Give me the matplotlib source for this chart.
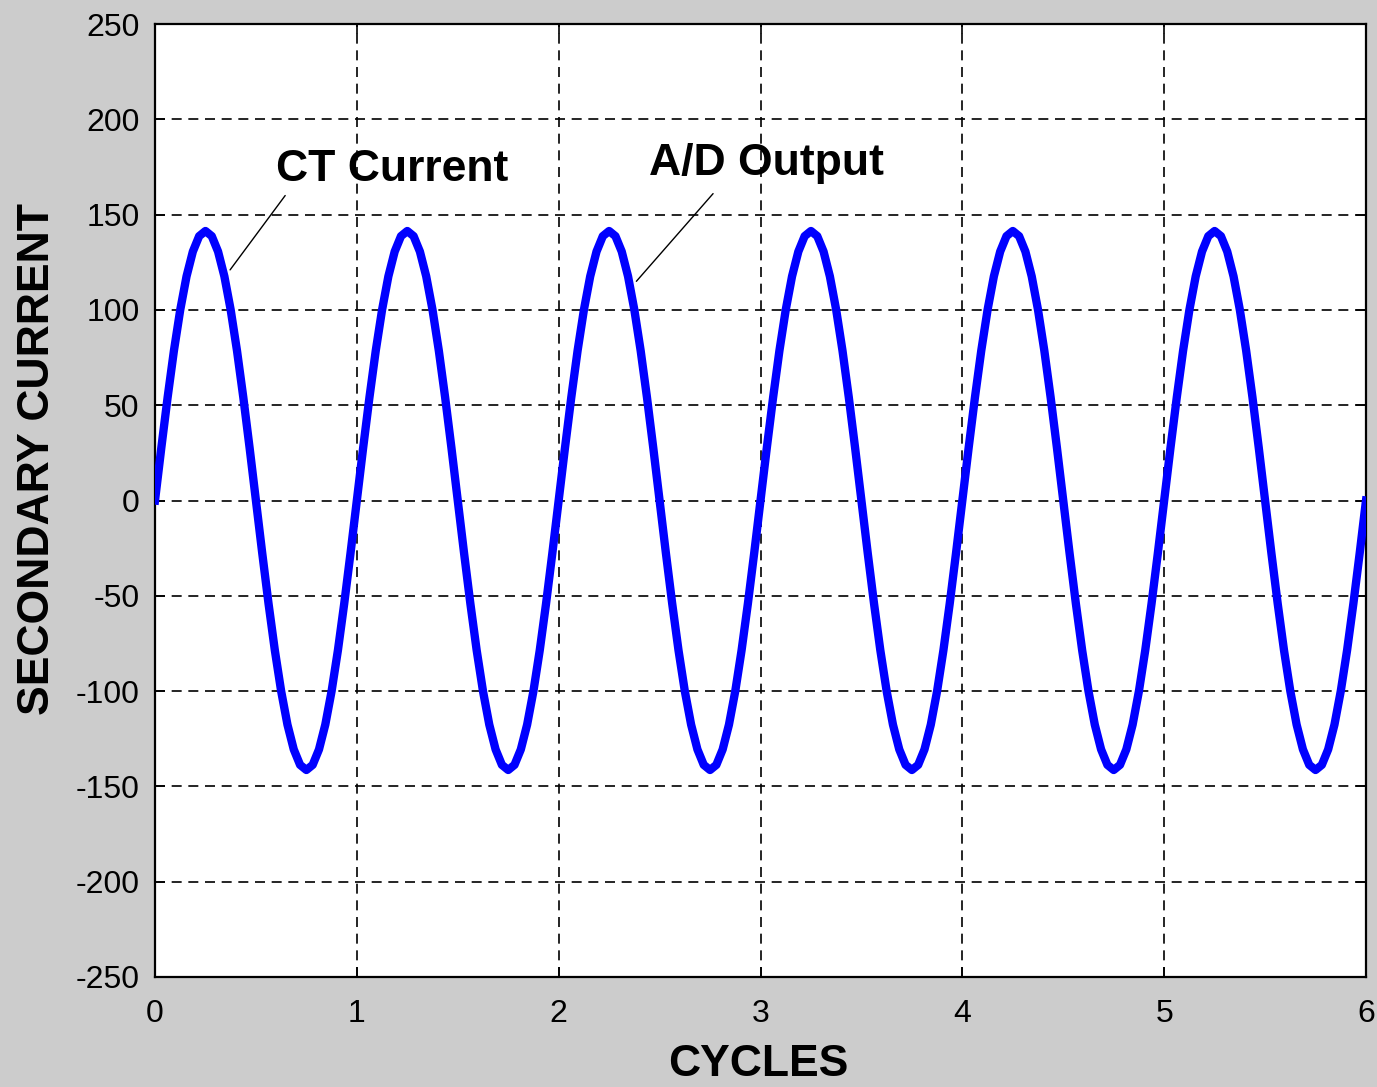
import numpy as np
import matplotlib
matplotlib.use("Agg")
import matplotlib.pyplot as plt

# Secondary current samples, 32 samples per cycle
samples_per_cycle = 32
secondary_current = [
    # cycle 1
    0, 27.6, 54.1, 78.6, 100.0, 117.6, 130.6, 138.7, 141.4, 138.7, 130.6, 117.6, 100.0, 78.6, 54.1, 27.6,
    0, -27.6, -54.1, -78.6, -100.0, -117.6, -130.6, -138.7, -141.4, -138.7, -130.6, -117.6, -100.0, -78.6, -54.1, -27.6,
    # cycle 2
    0, 27.6, 54.1, 78.6, 100.0, 117.6, 130.6, 138.7, 141.4, 138.7, 130.6, 117.6, 100.0, 78.6, 54.1, 27.6,
    0, -27.6, -54.1, -78.6, -100.0, -117.6, -130.6, -138.7, -141.4, -138.7, -130.6, -117.6, -100.0, -78.6, -54.1, -27.6,
    # cycle 3
    0, 27.6, 54.1, 78.6, 100.0, 117.6, 130.6, 138.7, 141.4, 138.7, 130.6, 117.6, 100.0, 78.6, 54.1, 27.6,
    0, -27.6, -54.1, -78.6, -100.0, -117.6, -130.6, -138.7, -141.4, -138.7, -130.6, -117.6, -100.0, -78.6, -54.1, -27.6,
    # cycle 4
    0, 27.6, 54.1, 78.6, 100.0, 117.6, 130.6, 138.7, 141.4, 138.7, 130.6, 117.6, 100.0, 78.6, 54.1, 27.6,
    0, -27.6, -54.1, -78.6, -100.0, -117.6, -130.6, -138.7, -141.4, -138.7, -130.6, -117.6, -100.0, -78.6, -54.1, -27.6,
    # cycle 5
    0, 27.6, 54.1, 78.6, 100.0, 117.6, 130.6, 138.7, 141.4, 138.7, 130.6, 117.6, 100.0, 78.6, 54.1, 27.6,
    0, -27.6, -54.1, -78.6, -100.0, -117.6, -130.6, -138.7, -141.4, -138.7, -130.6, -117.6, -100.0, -78.6, -54.1, -27.6,
    # cycle 6
    0, 27.6, 54.1, 78.6, 100.0, 117.6, 130.6, 138.7, 141.4, 138.7, 130.6, 117.6, 100.0, 78.6, 54.1, 27.6,
    0, -27.6, -54.1, -78.6, -100.0, -117.6, -130.6, -138.7, -141.4, -138.7, -130.6, -117.6, -100.0, -78.6, -54.1, -27.6,
    0,
]
cycles = np.arange(len(secondary_current)) / samples_per_cycle

x_ticks = [0, 1, 2, 3, 4, 5, 6]
y_ticks = [-250, -200, -150, -100, -50, 0, 50, 100, 150, 200, 250]

annotations = [
    # label, point on curve, leader start, text position
    ("CT Current", (0.372, 121), (0.645, 160), (0.60, 163)),
    ("A/D Output", (2.385, 115), (2.765, 161), (2.45, 166)),
]

plt.rcParams['font.family'] = ['Liberation Sans', 'DejaVu Sans']

fig = plt.figure(figsize=(13.77, 10.87), dpi=100, facecolor='#cccccc')
ax = fig.add_axes([155/1377, 1 - 977/1087, (1366-155)/1377, (977-24)/1087])
ax.set_facecolor('white')

ax.plot(cycles, secondary_current, color='#0000ff', lw=6, zorder=3)

ax.set_xlim(0, 6)
ax.set_ylim(-250, 250)
ax.set_xticks(x_ticks)
ax.set_yticks(y_ticks)
ax.set_xticklabels([str(v) for v in x_ticks])
ax.set_yticklabels([str(v) for v in y_ticks])
ax.grid(True, color='black', linestyle=(0, (6, 4)), linewidth=1.2)
ax.tick_params(direction='in', length=7, width=1.2, labelsize=23, colors='black',
               top=True, right=True)
ax.tick_params(axis='y', pad=11)
ax.tick_params(axis='x', pad=16)
for s in ax.spines.values():
    s.set_linewidth(1.6)
    s.set_color('black')

fig.text(758/1377, 1 - 1065/1087, 'CYCLES', ha='center', va='center',
         fontsize=32, fontweight='bold')
fig.text(38/1377, 1 - 459/1087, 'SECONDARY CURRENT', ha='center', va='center',
         rotation=90, fontsize=32, fontweight='bold')

for label, pt, start, tpos in annotations:
    ax.annotate('', xy=pt, xytext=start,
                arrowprops=dict(arrowstyle='-', lw=1.0, color='black',
                                shrinkA=0, shrinkB=0))
    ax.text(tpos[0], tpos[1], label, ha='left', va='bottom', fontsize=32,
            fontweight='bold', color='black')

fig.savefig('out.png', dpi=100, facecolor=fig.get_facecolor())
